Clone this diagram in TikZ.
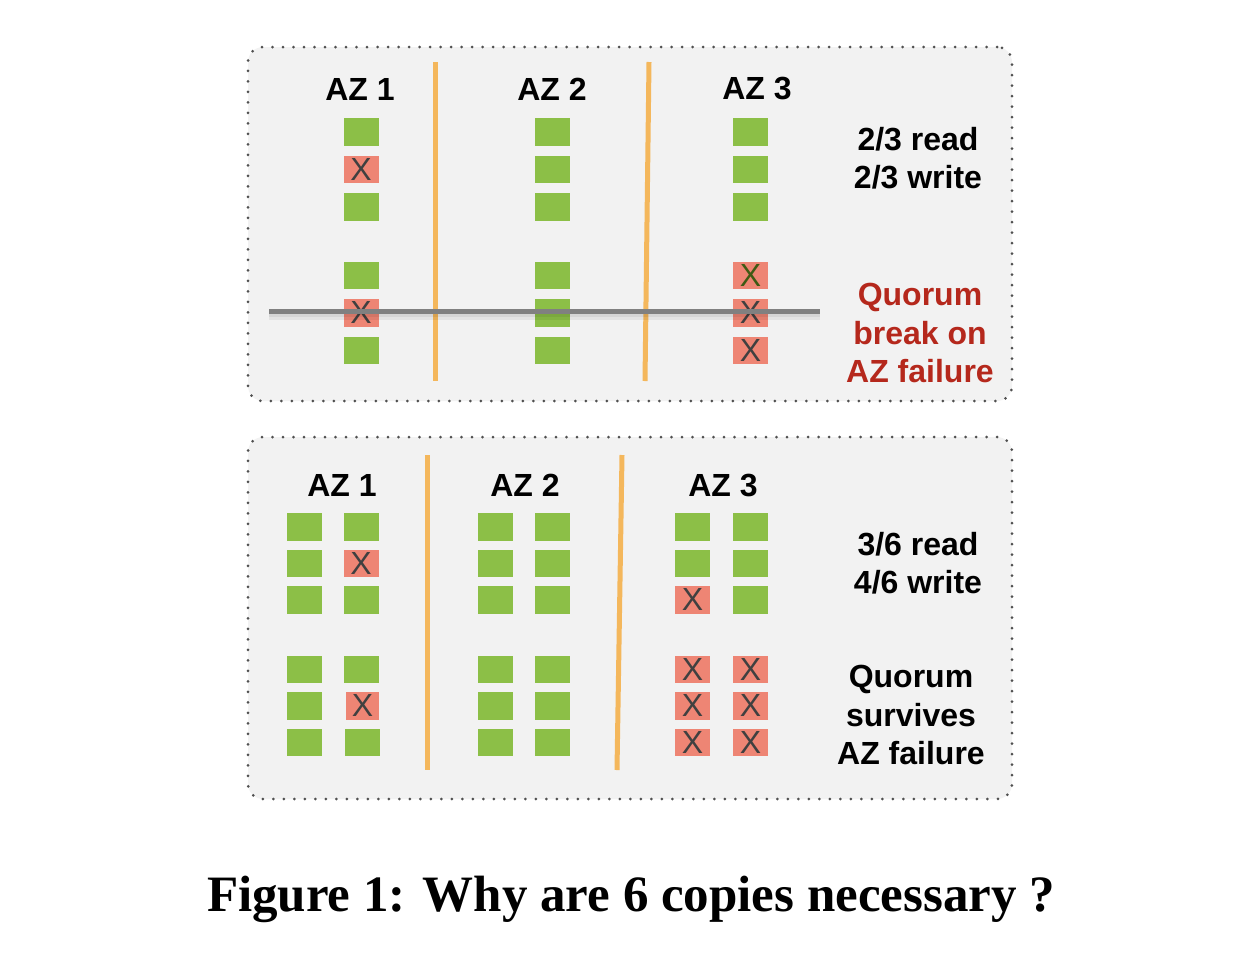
\documentclass[tikz,border=0pt]{standalone}
\usepackage{fontspec}
\setmainfont{Liberation Serif}
\setsansfont{Liberation Sans}
\usepackage{tikz}
\usetikzlibrary{positioning}
\definecolor{azGreen}{HTML}{8CBF47}
\definecolor{azRed}{HTML}{EE8574}
\definecolor{azCross}{HTML}{404040}
\definecolor{azOlive}{HTML}{3F5A14}
\definecolor{azOrange}{HTML}{F4B75C}
\definecolor{azPanel}{HTML}{F2F2F2}
\definecolor{azDots}{HTML}{505050}
\definecolor{azBar}{HTML}{808080}
\definecolor{azAlert}{HTML}{B5281C}
\tikzset{
  replica/.style={draw=none, minimum width=35pt, minimum height=27.5pt, inner sep=0pt, outer sep=0pt},
  alive/.style={replica, fill=azGreen},
  failed/.style={replica, fill=azRed, text=azCross, font=\fontsize{32}{32}\sffamily},
  panel/.style={
    draw=azDots, fill=azPanel, rounded corners=15pt, line width=3pt,
    dash pattern=on 0pt off 10.5pt, line cap=round
  },
  azlabel/.style={font=\fontsize{32}{38}\sffamily\bfseries},
  note/.style={font=\fontsize{32}{38.5}\sffamily\bfseries, align=center},
  divider/.style={azOrange, line width=5pt},
  cut/.style={azBar, line width=5pt},
  cutshadow/.style={black, opacity=0.06, line width=#1},
  cutshadow/.default=6pt
}

\begin{document}
\begin{tikzpicture}[x=1pt, y=1pt]
  \useasboundingbox (0,0) rectangle (1256,-978);

  % panels
  \node[panel, minimum width=764pt, minimum height=354pt] (upper) at (630,-224) {};
  \node[panel, minimum width=764pt, minimum height=362pt] (lower) at (630,-618) {};

  % ---- upper panel: 3 copies per AZ
  \node[azlabel] (uaz1) at (360,-89) {AZ 1};
  \node[azlabel] (uaz2) at (552,-89) {AZ 2};
  \node[azlabel] (uaz3) at (757,-89) {AZ 3};

  \node[alive, anchor=north] (u1a) at (361,-118) {};
  \node[failed, below=10pt of u1a] (u1b) {X};
  \node[alive, below=10pt of u1b] (u1c) {};
  \node[alive, below=41pt of u1c] (u1d) {};
  \node[failed, below=10pt of u1d] (u1e) {X};
  \node[alive, below=10pt of u1e] (u1f) {};

  \node[alive, anchor=north] (u2a) at (552,-118) {};
  \node[alive, below=10pt of u2a] (u2b) {};
  \node[alive, below=10pt of u2b] (u2c) {};
  \node[alive, below=41pt of u2c] (u2d) {};
  \node[alive, below=10pt of u2d] (u2e) {};
  \node[alive, below=10pt of u2e] (u2f) {};

  \node[alive, anchor=north] (u3a) at (750.5,-118) {};
  \node[alive, below=10pt of u3a] (u3b) {};
  \node[alive, below=10pt of u3b] (u3c) {};
  \node[failed, text=azOlive, below=41pt of u3c] (u3d) {X};
  \node[failed, below=10pt of u3d] (u3e) {X};
  \node[failed, below=10pt of u3e] (u3f) {X};

  \coordinate (us1t) at (435,-62);
  \coordinate (us1b) at (435,-381);
  \coordinate (us2t) at (649,-62);
  \coordinate (us2b) at (645,-381);
  \draw[divider] (us1t) -- (us1b);
  \draw[divider] (us2t) -- (us2b);

  \coordinate (cutl) at (269,-311);
  \coordinate (cutr) at (820,-311);
  \draw[cutshadow=10pt] ([yshift=-4pt]cutl) -- ([yshift=-4pt]cutr);
  \draw[cutshadow] ([yshift=-3pt]cutl) -- ([yshift=-3pt]cutr);
  \draw[cut] (cutl) -- (cutr);

  \node[note] (urule) at (918,-158) {2/3 read\\2/3 write};
  \node[note, text=azAlert] (ubreak) at (920,-333) {Quorum\\break on\\AZ failure};

  % ---- lower panel: 6 copies, 2 per AZ
  \node[azlabel] (laz1) at (342,-485) {AZ 1};
  \node[azlabel] (laz2) at (525,-485) {AZ 2};
  \node[azlabel] (laz3) at (723,-485) {AZ 3};

  \node[alive, anchor=north] (l1a) at (304.5,-513) {};
  \node[alive, below=9pt of l1a] (l1b) {};
  \node[alive, below=9pt of l1b] (l1c) {};
  \node[alive, below=42pt of l1c] (l1d) {};
  \node[alive, below=9pt of l1d] (l1e) {};
  \node[alive, below=9pt of l1e] (l1f) {};

  \node[alive, anchor=north] (l2a) at (361,-513) {};
  \node[failed, below=9pt of l2a] (l2b) {X};
  \node[alive, below=9pt of l2b] (l2c) {};
  \node[alive, below=42pt of l2c] (l2d) {};
  \node[failed, minimum width=33pt, xshift=1.5pt, below=9pt of l2d] (l2e) {X};
  \node[alive, below=9pt of l2e] (l2f) {};

  \node[alive, anchor=north] (l3a) at (495.5,-513) {};
  \node[alive, below=9pt of l3a] (l3b) {};
  \node[alive, below=9pt of l3b] (l3c) {};
  \node[alive, below=42pt of l3c] (l3d) {};
  \node[alive, below=9pt of l3d] (l3e) {};
  \node[alive, below=9pt of l3e] (l3f) {};

  \node[alive, anchor=north] (l4a) at (552,-513) {};
  \node[alive, below=9pt of l4a] (l4b) {};
  \node[alive, below=9pt of l4b] (l4c) {};
  \node[alive, below=42pt of l4c] (l4d) {};
  \node[alive, below=9pt of l4d] (l4e) {};
  \node[alive, below=9pt of l4e] (l4f) {};

  \node[alive, anchor=north] (l5a) at (692.5,-513) {};
  \node[alive, below=9pt of l5a] (l5b) {};
  \node[failed, below=9pt of l5b] (l5c) {X};
  \node[failed, below=42pt of l5c] (l5d) {X};
  \node[failed, below=9pt of l5d] (l5e) {X};
  \node[failed, below=9pt of l5e] (l5f) {X};

  \node[alive, anchor=north] (l6a) at (750.5,-513) {};
  \node[alive, below=9pt of l6a] (l6b) {};
  \node[alive, below=9pt of l6b] (l6c) {};
  \node[failed, below=42pt of l6c] (l6d) {X};
  \node[failed, below=9pt of l6d] (l6e) {X};
  \node[failed, below=9pt of l6e] (l6f) {X};

  \coordinate (ls1t) at (427,-455);
  \coordinate (ls1b) at (427,-770);
  \coordinate (ls2t) at (622,-455);
  \coordinate (ls2b) at (617,-770);
  \draw[divider] (ls1t) -- (ls1b);
  \draw[divider] (ls2t) -- (ls2b);

  \node[note] (lrule) at (918,-563) {3/6 read\\4/6 write};
  \node[note] (lsurvive) at (911,-715) {Quorum\\survives\\AZ failure};

  % caption
  \node[font=\fontsize{51}{60}\selectfont\bfseries, anchor=base] (caption) at (631,-911)
    {Figure 1: Why are 6 copies necessary ?};
\end{tikzpicture}
\end{document}
